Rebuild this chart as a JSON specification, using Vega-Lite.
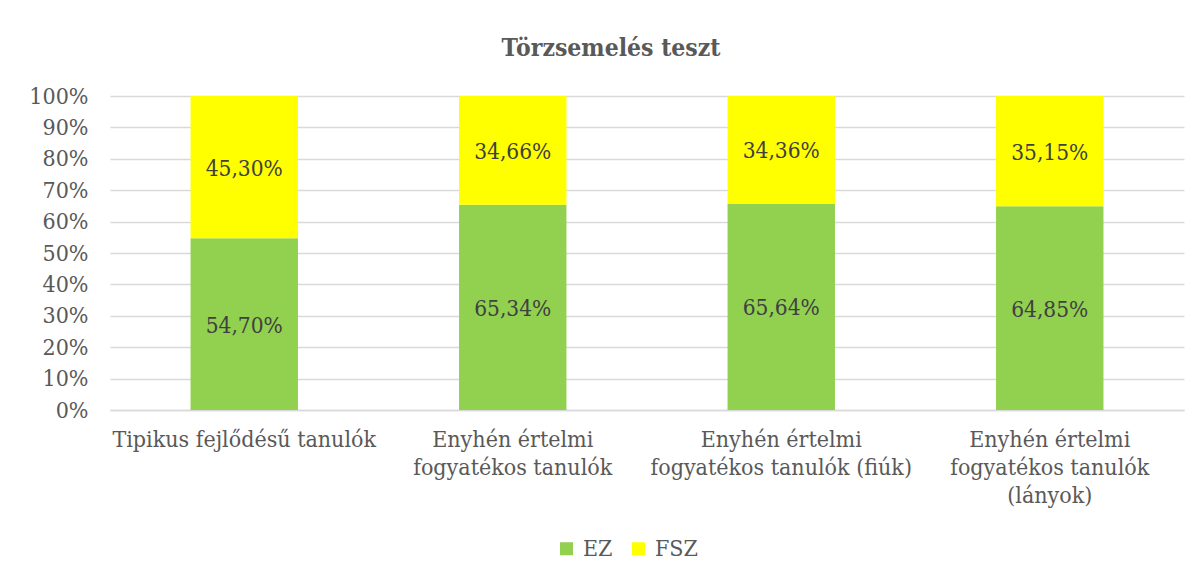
{
  "$schema": "https://vega.github.io/schema/vega-lite/v6.json",
  "width": 1074,
  "height": 314,
  "autosize": "none",
  "padding": {"left": 110, "top": 96, "right": 16, "bottom": 168},
  "background": "white",
  "title": {
    "text": "Törzsemelés teszt",
    "font": "DejaVu Serif Condensed",
    "fontSize": 24.5,
    "fontWeight": "bold",
    "color": "#595959",
    "anchor": "middle",
    "dx": -36,
    "offset": 24
  },
  "data": {
    "values": [
      {"group": "Tipikus fejlődésű tanulók", "type": "EZ", "value": 0.547},
      {"group": "Tipikus fejlődésű tanulók", "type": "FSZ", "value": 0.453},
      {"group": "Enyhén értelmi fogyatékos tanulók", "type": "EZ", "value": 0.6534},
      {"group": "Enyhén értelmi fogyatékos tanulók", "type": "FSZ", "value": 0.3466},
      {"group": "Enyhén értelmi fogyatékos tanulók (fiúk)", "type": "EZ", "value": 0.6564},
      {"group": "Enyhén értelmi fogyatékos tanulók (fiúk)", "type": "FSZ", "value": 0.3436},
      {"group": "Enyhén értelmi fogyatékos tanulók (lányok)", "type": "EZ", "value": 0.6485},
      {"group": "Enyhén értelmi fogyatékos tanulók (lányok)", "type": "FSZ", "value": 0.3515}
    ]
  },
  "encoding": {
    "x": {
      "field": "group",
      "type": "nominal",
      "sort": null,
      "title": null,
      "scale": {"paddingInner": 0.6, "paddingOuter": 0.3},
      "axis": {
        "labelAngle": 0,
        "ticks": false,
        "domainColor": "#d9d9d9",
        "domainWidth": 1.5,
        "labelPadding": 18,
        "labelLineHeight": 28,
        "labelLimit": 0,
        "labelExpr": "datum.label == 'Tipikus fejlődésű tanulók' ? 'Tipikus fejlődésű tanulók' : datum.label == 'Enyhén értelmi fogyatékos tanulók' ? ['Enyhén értelmi', 'fogyatékos tanulók'] : datum.label == 'Enyhén értelmi fogyatékos tanulók (fiúk)' ? ['Enyhén értelmi', 'fogyatékos tanulók (fiúk)'] : ['Enyhén értelmi', 'fogyatékos tanulók', '(lányok)']"
      }
    },
    "y": {
      "field": "value",
      "type": "quantitative",
      "stack": "zero",
      "title": null,
      "scale": {"domain": [0, 1]},
      "axis": {
        "format": ".0%",
        "values": [0, 0.1, 0.2, 0.3, 0.4, 0.5, 0.6, 0.7, 0.8, 0.9, 1],
        "domain": false,
        "ticks": false,
        "labelPadding": 22,
        "gridColor": "#d9d9d9",
        "gridWidth": 1.5
      }
    }
  },
  "layer": [
    {
      "mark": {"type": "bar"},
      "encoding": {
        "color": {
          "field": "type",
          "type": "nominal",
          "scale": {"domain": ["EZ", "FSZ"], "range": ["#92D050", "#FFFF00"]},
          "legend": {
            "title": null,
            "orient": "none",
            "direction": "horizontal",
            "legendX": 445,
            "legendY": 441,
            "symbolType": "square",
            "symbolSize": 170,
            "symbolStrokeWidth": 0,
            "labelFontSize": 23,
            "labelColor": "#595959",
            "labelFont": "DejaVu Serif Condensed",
            "columnPadding": 14,
            "labelOffset": 5
          }
        },
        "order": {"field": "type", "sort": "ascending"}
      }
    },
    {
      "mark": {"type": "text", "font": "DejaVu Serif Condensed", "fontSize": 22.5, "color": "#404040", "baseline": "middle", "dy": 1.5},
      "encoding": {
        "y": {
          "field": "value",
          "type": "quantitative",
          "stack": "zero",
          "bandPosition": 0.5,
          "title": null,
          "scale": {"domain": [0, 1]},
          "axis": {
            "format": ".0%",
            "values": [0, 0.1, 0.2, 0.3, 0.4, 0.5, 0.6, 0.7, 0.8, 0.9, 1],
            "domain": false,
            "ticks": false,
            "labelPadding": 22,
            "gridColor": "#d9d9d9",
            "gridWidth": 1.5
          }
        },
        "detail": {"field": "type"},
        "order": {"field": "type", "sort": "ascending"},
        "text": {"field": "value", "type": "quantitative", "format": ".2%"}
      }
    }
  ],
  "config": {
    "locale": {"number": {"decimal": ",", "thousands": " ", "grouping": [3], "currency": ["", " Ft"]}},
    "view": {"stroke": null},
    "axis": {
      "labelFont": "DejaVu Serif Condensed",
      "labelFontSize": 23,
      "labelColor": "#595959"
    }
  }
}
